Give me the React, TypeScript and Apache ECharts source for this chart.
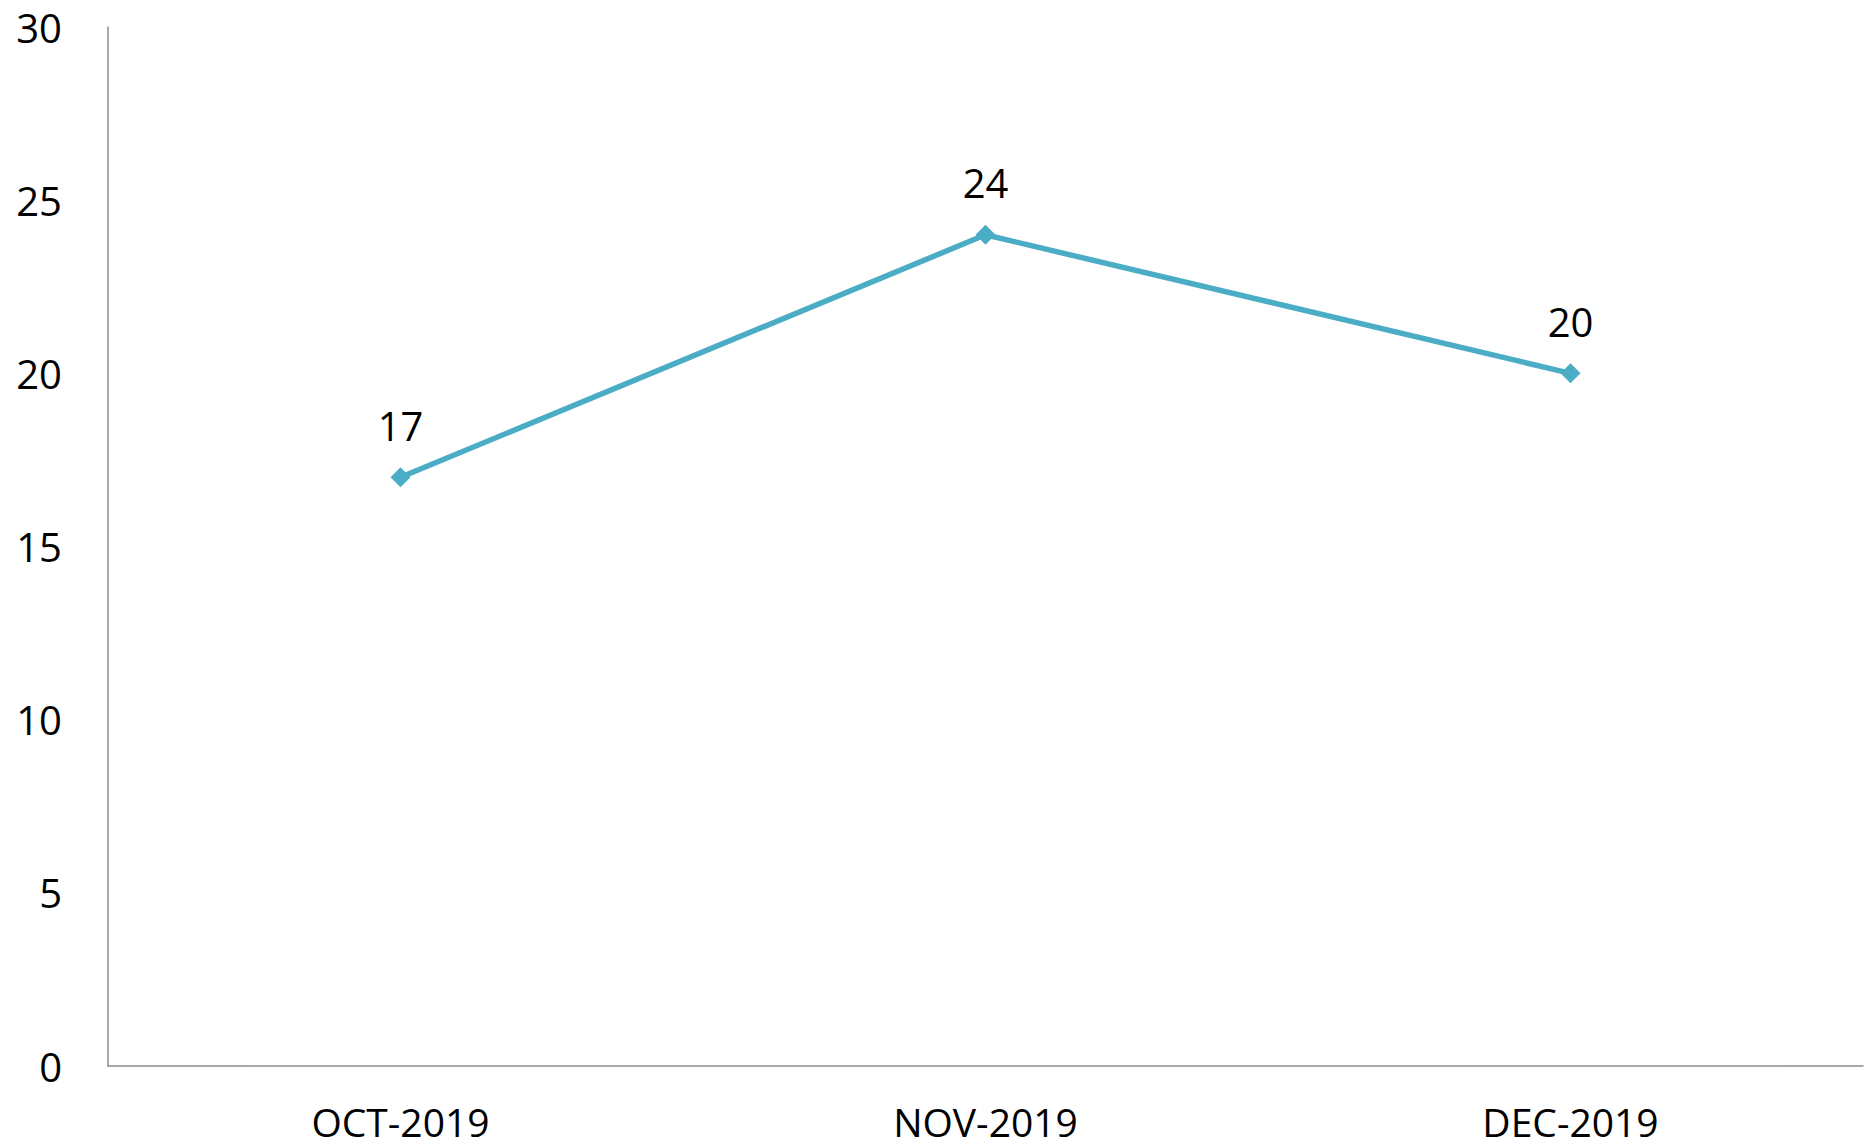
import React, { useEffect, useRef } from "react";
import * as echarts from "echarts";

const categories = ["OCT-2019", "NOV-2019", "DEC-2019"];
const values = [17, 24, 20];
const yTicks = [0, 5, 10, 15, 20, 25, 30];

export default function App() {
  const ref = useRef<HTMLDivElement>(null);
  useEffect(() => {
    if (!ref.current) return;
    const chart = echarts.init(ref.current, undefined, { renderer: "svg" });
    const font = "'Open Sans', sans-serif";
    chart.setOption({
      animation: false,
      backgroundColor: "#ffffff",
      grid: { left: 108, top: 27, right: 3, bottom: 82, containLabel: false },
      xAxis: {
        type: "category",
        data: categories,
        boundaryGap: true,
        axisLine: { show: true, lineStyle: { color: "#8c8c8c", width: 1.5 } },
        axisTick: { show: false },
        axisLabel: { color: "#000", fontSize: 39, lineHeight: 38, fontFamily: font, margin: 36 },
        splitLine: { show: false },
      },
      yAxis: {
        type: "value",
        min: yTicks[0],
        max: yTicks[yTicks.length - 1],
        interval: 5,
        axisLine: { show: true, lineStyle: { color: "#8c8c8c", width: 1.5 } },
        axisTick: { show: false },
        axisLabel: { color: "#000", fontSize: 40, lineHeight: 38, fontFamily: font, margin: 46 },
        splitLine: { show: false },
      },
      series: [
        {
          type: "line",
          data: values,
          color: "#4BACC6",
          lineStyle: { color: "#4BACC6", width: 5.5 },
          itemStyle: { color: "#4BACC6" },
          symbol: "diamond",
          symbolSize: 20,
          label: {
            show: true,
            position: "top",
            distance: 22,
            color: "#000",
            fontSize: 40,
            lineHeight: 40,
            fontFamily: font,
          },
        },
      ],
    });
    return () => chart.dispose();
  }, []);
  return (
    <div
      ref={ref}
      style={{ position: "fixed", left: 0, top: 0, width: 1866, height: 1148 }}
    />
  );
}
